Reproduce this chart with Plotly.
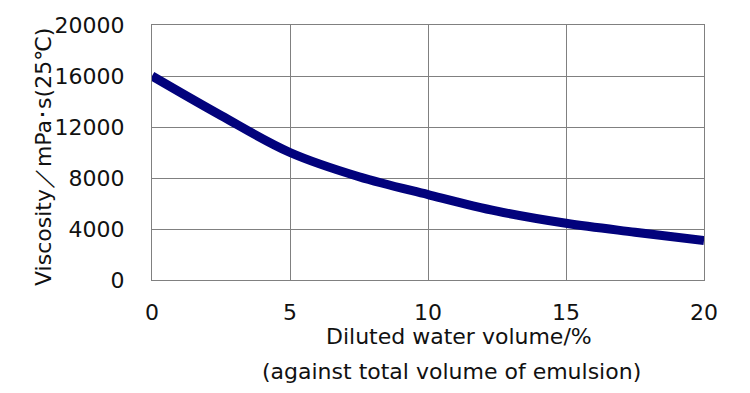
import plotly.graph_objects as go

water_pct = [0, 2.5, 5, 7.5, 10, 12.5, 15, 17.5, 20]
viscosity = [16000, 12900, 10000, 8100, 6700, 5400, 4450, 3750, 3100]
x_ticks = [0, 5, 10, 15, 20]
y_ticks = [0, 4000, 8000, 12000, 16000, 20000]
y_tick_text = ["0", "4000", "8000", "12000", "16000", "20000"]

FONT = "DejaVu Sans"
fig = go.Figure()
fig.add_trace(go.Scatter(x=water_pct, y=viscosity, mode="lines",
                         line=dict(color="#02027c", width=9, shape="spline", smoothing=1.0),
                         showlegend=False))

OFF = 8  # page body margin
L, R, T, B = 152, 704, 25, 280  # target plot box in page pixels
PW, PH = R - L, B - T

fig.update_layout(
    width=750, height=393,
    margin=dict(l=L - OFF, r=750 + OFF - R, t=T - OFF, b=393 + OFF - B),
    paper_bgcolor="white", plot_bgcolor="white",
    font=dict(family=FONT, color="#111111", size=22),
    xaxis=dict(range=[0, 20], tickvals=x_ticks, showgrid=True, gridcolor="#808080", gridwidth=1,
               showline=True, linecolor="#808080", mirror=True, zeroline=False, automargin=False,
               ticks="", ticklabelstandoff=13, tickfont=dict(size=22)),
    yaxis=dict(range=[0, 20000], tickvals=y_ticks, ticktext=y_tick_text, showgrid=True,
               gridcolor="#808080", gridwidth=1, automargin=False,
               showline=True, linecolor="#808080", mirror=True, zeroline=False,
               ticks="", ticklabelstandoff=22, tickfont=dict(size=22)),
    annotations=[
        dict(text="Diluted water volume/%", xref="paper", yref="paper", x=(459 - L) / PW,
             y=-(336 - B) / PH, xanchor="center", yanchor="middle", showarrow=False,
             font=dict(size=22, family=FONT)),
        dict(text="(against total volume of emulsion)", xref="paper", yref="paper", x=(451 - L) / PW,
             y=-(371 - B) / PH, xanchor="center", yanchor="middle", showarrow=False,
             font=dict(size=22, family=FONT)),
        dict(text="Viscosity／mPa･s(25℃)", xref="paper", yref="paper", x=-(L - 44) / PW,
             y=(B - 157) / PH, xanchor="center", yanchor="middle", showarrow=False, textangle=-90,
             font=dict(size=22, family=FONT)),
    ],
)

fig.write_html("out.html")
